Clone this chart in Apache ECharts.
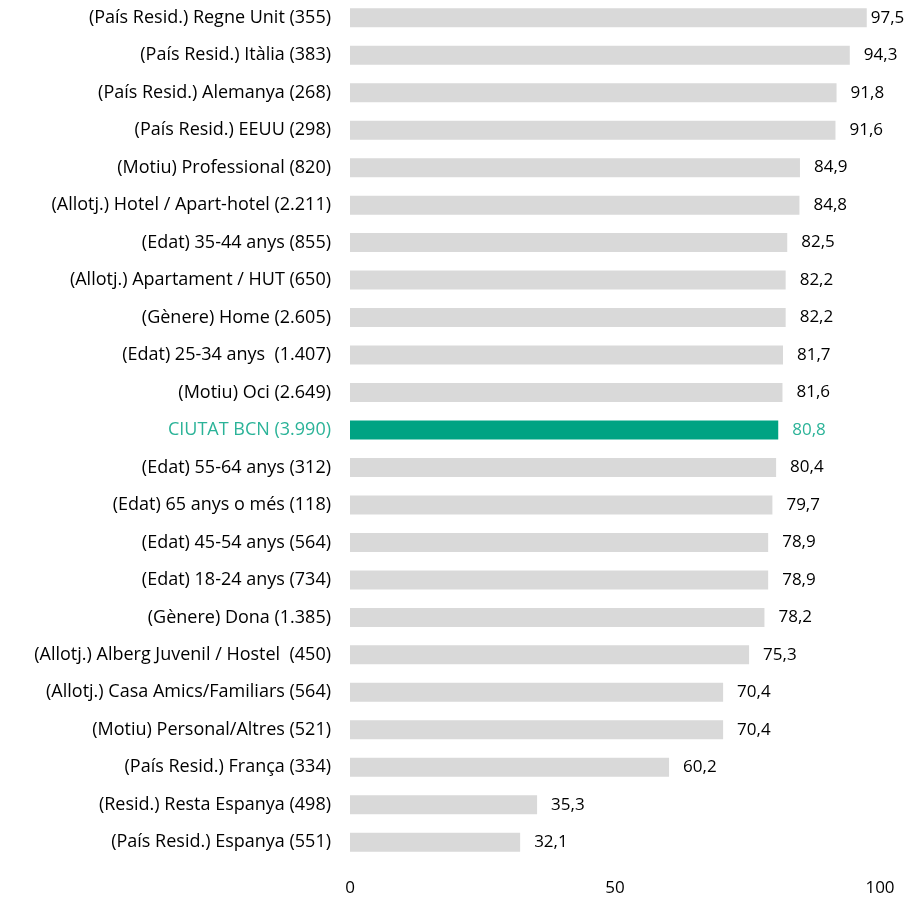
<!DOCTYPE html>
<html>
<head>
<meta charset="utf-8">
<script src="https://cdn.jsdelivr.net/npm/echarts@6/dist/echarts.min.js"></script>
<style>
  html, body { margin: 0; padding: 0; background: #fff; }
  #chart { width: 912px; height: 899px; }
</style>
</head>
<body>
<div id="chart"></div>
<script>
const categories = [
  "(País Resid.) Regne Unit (355)",
  "(País Resid.) Itàlia (383)",
  "(País Resid.) Alemanya (268)",
  "(País Resid.) EEUU (298)",
  "(Motiu) Professional (820)",
  "(Allotj.) Hotel / Apart-hotel (2.211)",
  "(Edat) 35-44 anys (855)",
  "(Allotj.) Apartament / HUT (650)",
  "(Gènere) Home (2.605)",
  "(Edat) 25-34 anys  (1.407)",
  "(Motiu) Oci (2.649)",
  "CIUTAT BCN (3.990)",
  "(Edat) 55-64 anys (312)",
  "(Edat) 65 anys o més (118)",
  "(Edat) 45-54 anys (564)",
  "(Edat) 18-24 anys (734)",
  "(Gènere) Dona (1.385)",
  "(Allotj.) Alberg Juvenil / Hostel  (450)",
  "(Allotj.) Casa Amics/Familiars (564)",
  "(Motiu) Personal/Altres (521)",
  "(País Resid.) França (334)",
  "(Resid.) Resta Espanya (498)",
  "(País Resid.) Espanya (551)"
];
const values = [97.5, 94.3, 91.8, 91.6, 84.9, 84.8, 82.5, 82.2, 82.2, 81.7, 81.6, 80.8,
  80.4, 79.7, 78.9, 78.9, 78.2, 75.3, 70.4, 70.4, 60.2, 35.3, 32.1];
const highlight = "CIUTAT BCN (3.990)";
const xTicks = [0, 50, 100];

const grey = "#d9d9d9";
const green = "#00a383";
const greenText = "#2bb398";
const font = "Open Sans";

const chart = echarts.init(document.getElementById('chart'), null, { renderer: 'canvas' });

chart.setOption({
  backgroundColor: "#ffffff",
  animation: false,
  grid: { left: 350, right: 32, top: -1, height: 862, outerBoundsMode: 'none', containLabel: false },
  xAxis: {
    type: "value",
    min: xTicks[0],
    max: xTicks[xTicks.length - 1],
    interval: 50,
    axisLine: { show: false },
    axisTick: { show: false },
    splitLine: { show: false },
    axisLabel: { color: "#000", fontFamily: font, fontSize: 17, margin: 19 }
  },
  yAxis: {
    type: "category",
    data: categories,
    inverse: true,
    axisLine: { show: false },
    axisTick: { show: false },
    axisLabel: {
      margin: 19,
      fontFamily: font,
      fontSize: 18,
      color: function (v) { return v === highlight ? greenText : "#000"; }
    }
  },
  series: [{
    type: "bar",
    barWidth: 19,
    data: values.map(function (v, i) {
      const hl = categories[i] === highlight;
      return {
        value: v,
        itemStyle: { color: hl ? green : grey },
        label: { color: hl ? greenText : "#000", distance: v > 95 ? 4 : 14 }
      };
    }),
    label: {
      show: true,
      position: "right",
      fontFamily: font,
      fontSize: 17,
      formatter: function (p) { return p.value.toFixed(1).replace(".", ","); }
    }
  }]
});
</script>
</body>
</html>
